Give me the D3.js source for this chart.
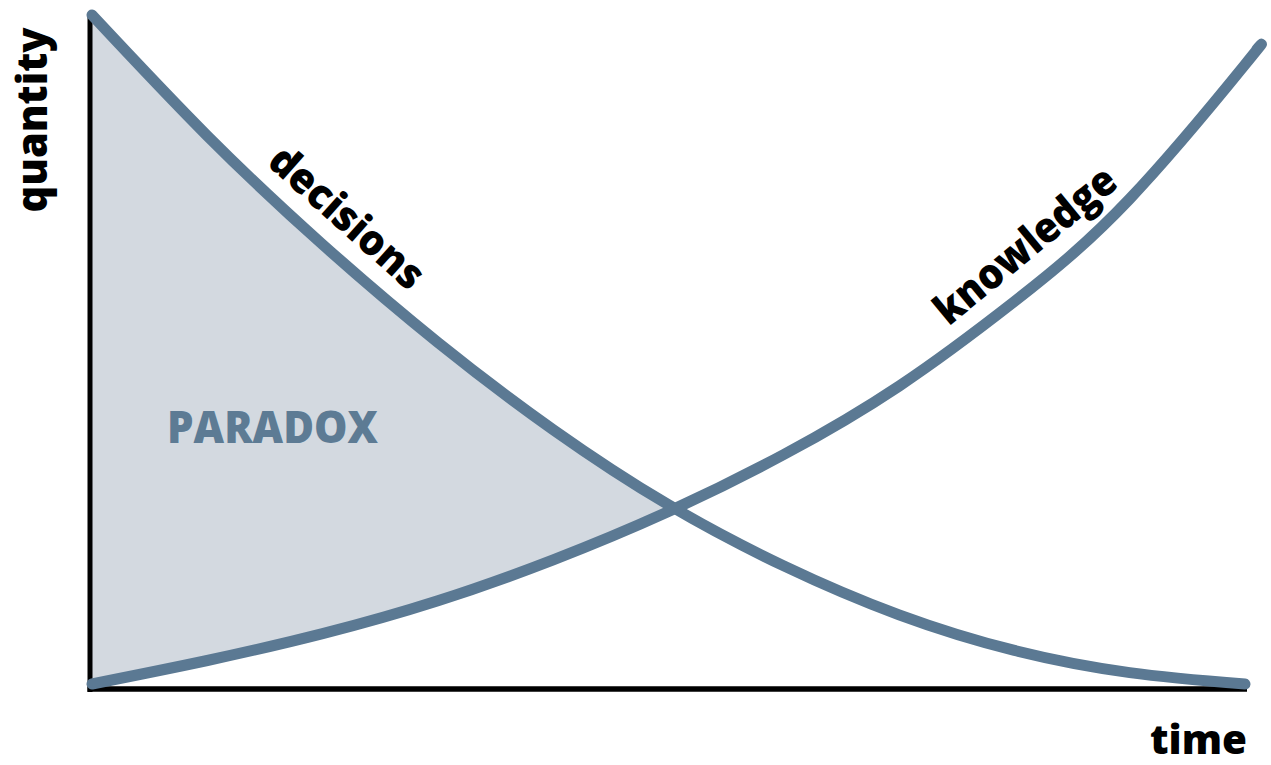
<!DOCTYPE html>
<html>
<head>
<meta charset="utf-8">
<script src="https://cdn.jsdelivr.net/npm/d3@7"></script>
<style>
  html, body { margin: 0; padding: 0; background: #ffffff; }
  svg { display: block; }
  text { font-family: "Open Sans", "DejaVu Sans", sans-serif; font-weight: 800; }
</style>
</head>
<body>
<svg id="chart" width="1271" height="765"></svg>
<script>
// Time steps (arbitrary units) and the two quantities over time
const times = [0, 10, 20, 30, 40, 50, 60, 70, 80, 90, 100];
const decisions = [100, 82.0, 65.8, 51.2, 38.2, 27.0, 17.9, 10.6, 5.3, 2.0, 0.3];
const knowledgeTimes = [0, 10, 20, 30, 40, 50, 60, 70, 80, 90, 100, 101];
const knowledge = [0.3, 3.8, 7.8, 12.7, 18.8, 26.0, 34.5, 44.7, 57.3, 72.6, 92.6, 94.8];

// Text labels
const seriesLabels = ["decisions", "knowledge"];
const axisLabels = { x: "time", y: "quantity" };
const regionLabel = "PARADOX";

const lineColor = "#5b7993";
const fillColor = "#d3d9e0";

const svg = d3.select("#chart");

const x = d3.scaleLinear().domain([0, 100]).range([92, 1245]);
const y = d3.scaleLinear().domain([0, 100]).range([686, 15]);

const curve = d3.curveNatural;

// Where the two curves cross (linear search over the shared time steps)
let tCross = 50;
for (let i = 0; i < times.length - 1; i++) {
  const d0 = decisions[i] - knowledge[i];
  const d1 = decisions[i + 1] - knowledge[i + 1];
  if (d0 >= 0 && d1 < 0) {
    tCross = times[i] + (times[i + 1] - times[i]) * d0 / (d0 - d1);
    break;
  }
}

// Shaded region between decisions (above) and knowledge (below), up to the crossing
svg.append("clipPath").attr("id", "paradox-clip")
  .append("rect")
  .attr("x", x(0)).attr("y", 0)
  .attr("width", x(tCross) - x(0)).attr("height", y(0) + 2);

const area = d3.area()
  .x((d, i) => x(times[i]))
  .y0((d, i) => y(knowledge[i]))
  .y1((d, i) => y(decisions[i]))
  .curve(curve);

svg.append("path")
  .datum(times)
  .attr("d", area)
  .attr("fill", fillColor)
  .attr("clip-path", "url(#paradox-clip)");

// Axes: plain black lines, no ticks
const axisG = svg.append("g").attr("stroke", "#000");
axisG.append("line")
  .attr("x1", x(0) - 2).attr("x2", x(0) - 2)
  .attr("y1", y(100) + 2).attr("y2", y(0) + 6)
  .attr("stroke-width", 5);
axisG.append("line")
  .attr("x1", x(0) - 4.5).attr("x2", x(100) + 2)
  .attr("y1", y(0) + 3).attr("y2", y(0) + 3)
  .attr("stroke-width", 5.5);

// Curves
const lineGen = (ts) => d3.line()
  .x((d, i) => x(ts[i]))
  .y(d => y(d))
  .curve(curve);

const decisionsPath = svg.append("path")
  .datum(decisions)
  .attr("d", lineGen(times))
  .attr("fill", "none")
  .attr("stroke", lineColor)
  .attr("stroke-width", 11)
  .attr("stroke-linecap", "round")
  .attr("stroke-linejoin", "round");

const knowledgePath = svg.append("path")
  .datum(knowledge)
  .attr("d", lineGen(knowledgeTimes))
  .attr("fill", "none")
  .attr("stroke", lineColor)
  .attr("stroke-width", 11)
  .attr("stroke-linecap", "round")
  .attr("stroke-linejoin", "round");

// Point and tangent angle on a drawn path at a given screen x
function pointAtX(pathNode, px) {
  const total = pathNode.getTotalLength();
  let lo = 0, hi = total;
  for (let k = 0; k < 40; k++) {
    const mid = (lo + hi) / 2;
    if (pathNode.getPointAtLength(mid).x < px) lo = mid; else hi = mid;
  }
  const p = pathNode.getPointAtLength(lo);
  const a = pathNode.getPointAtLength(Math.max(0, lo - 8));
  const b = pathNode.getPointAtLength(Math.min(total, lo + 8));
  return { x: p.x, y: p.y, angle: Math.atan2(b.y - a.y, b.x - a.x) };
}

// Curve labels sitting just above each curve, rotated along it
function curveLabel(pathNode, t, text, offset, len) {
  const p = pointAtX(pathNode, x(t));
  const nx = Math.sin(p.angle), ny = -Math.cos(p.angle);
  const cx = p.x + nx * offset, cy = p.y + ny * offset;
  svg.append("text")
    .attr("transform", `translate(${cx},${cy}) rotate(${p.angle * 180 / Math.PI})`)
    .attr("text-anchor", "middle")
    .attr("font-size", 42)
    .attr("textLength", len)
    .attr("lengthAdjust", "spacingAndGlyphs")
    .attr("fill", "#000")
    .text(text);
}

curveLabel(decisionsPath.node(), 20, seriesLabels[0], 22, 192);
curveLabel(knowledgePath.node(), 83, seriesLabels[1], 23, 222);

// Axis titles
svg.append("text")
  .attr("transform", `translate(${x(0) - 45},${120}) rotate(-90)`)
  .attr("text-anchor", "middle")
  .attr("font-size", 42)
  .attr("textLength", 185)
  .attr("lengthAdjust", "spacingAndGlyphs")
  .attr("fill", "#000")
  .text(axisLabels.y);

svg.append("text")
  .attr("x", x(100) + 2)
  .attr("y", 754)
  .attr("text-anchor", "end")
  .attr("font-size", 40)
  .attr("textLength", 97)
  .attr("lengthAdjust", "spacingAndGlyphs")
  .attr("fill", "#000")
  .text(axisLabels.x);

// Region label inside the shaded area
svg.append("text")
  .attr("x", 167)
  .attr("y", 443)
  .attr("font-size", 45)
  .attr("textLength", 211)
  .attr("lengthAdjust", "spacingAndGlyphs")
  .attr("fill", "#5d7b94")
  .text(regionLabel);
</script>
</body>
</html>
